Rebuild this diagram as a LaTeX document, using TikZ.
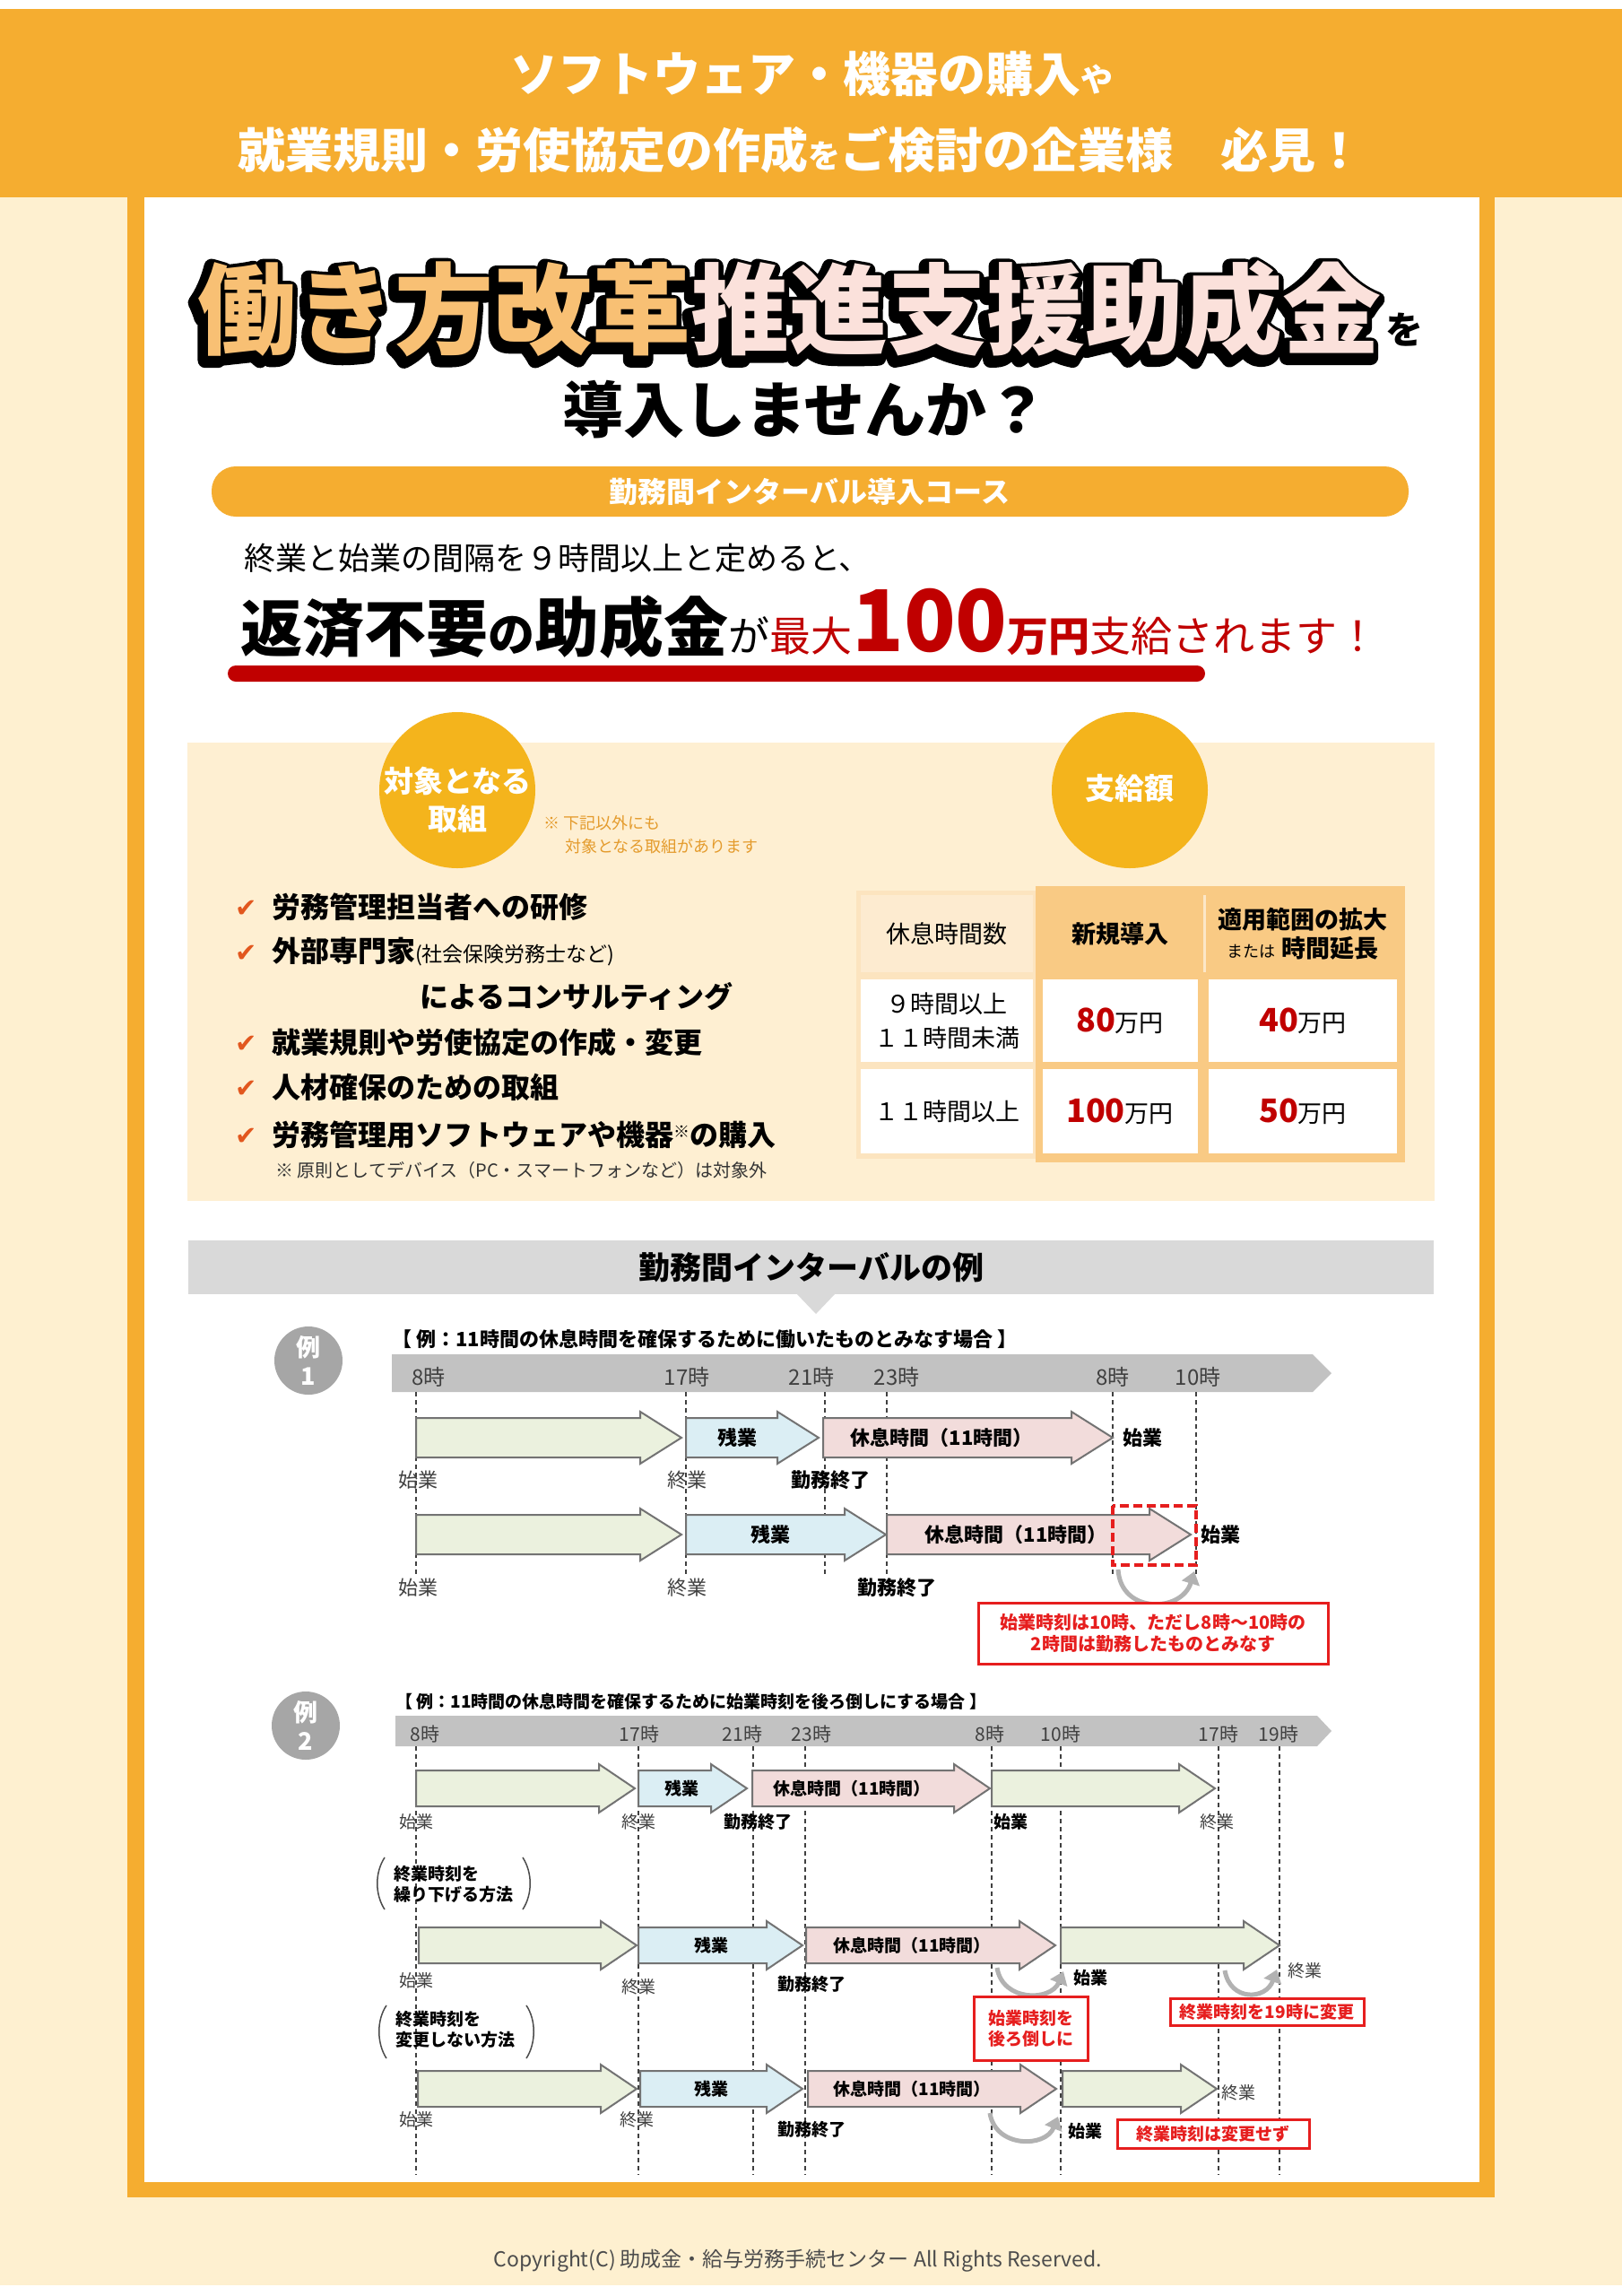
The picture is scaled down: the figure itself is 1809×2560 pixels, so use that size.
\documentclass[tikz,border=0pt]{standalone}
\usepackage{fontspec}
\setmainfont{Noto Sans CJK JP}
\newfontfamily\symfont{DejaVu Sans}
\usetikzlibrary{arrows.meta}

\definecolor{mainorange}{HTML}{F5AD30}
\definecolor{bgcream}{HTML}{FEF0D0}
\definecolor{boxcream}{HTML}{FEEFD2}
\definecolor{gold}{HTML}{F4B41C}
\definecolor{darkred}{HTML}{C00000}
\definecolor{ttlorange}{HTML}{F8C074}
\definecolor{ttlpink}{HTML}{FBE1DB}
\definecolor{notegold}{HTML}{E49B2C}
\definecolor{checkred}{HTML}{E2571E}
\definecolor{tblframe}{HTML}{F9CA84}
\definecolor{tbllight}{HTML}{FCE4BF}
\definecolor{tblhead}{HTML}{FDEBD0}
\definecolor{secgray}{HTML}{D9D9D9}
\definecolor{bargray}{HTML}{C2C2C2}
\definecolor{circgray}{HTML}{A6A6A6}
\definecolor{worktint}{HTML}{EBF1DE}
\definecolor{overtint}{HTML}{DBEEF4}
\definecolor{resttint}{HTML}{F2DCDB}
\definecolor{exred}{HTML}{E61E1E}
\definecolor{txtgray}{HTML}{404040}

\newcommand\fs[1]{\fontsize{#1pt}{1.2\dimexpr#1pt\relax}\selectfont}
\newcommand\outlined[1]{\color{black}\special{pdf:literal direct 1 Tr 17 w 1 j 0 G}#1\special{pdf:literal direct 0 Tr}}

\newcommand\bodyh{22}
\newcommand\headh{29}
\newcommand\headl{46}
\newcommand\blockarrow[4]{%
  \draw[blockline, fill=#4] (#1,#3-\bodyh) -- (#2-\headl,#3-\bodyh) -- (#2-\headl,#3-\headh)
    -- (#2,#3) -- (#2-\headl,#3+\headh) -- (#2-\headl,#3+\bodyh) -- (#1,#3+\bodyh) -- cycle;}

\tikzset{
  hdtext/.style={text=white, font=\bfseries\fs{53}},
  ttltext/.style={font=\bfseries\fs{110}, inner sep=0pt},
  goldcirc/.style={circle, fill=gold, minimum size=174pt, inner sep=0pt},
  circtext/.style={text=white, font=\bfseries\fs{33}, align=center, inner sep=0pt},
  notetext/.style={anchor=west, text=notegold, font=\fs{18}, inner sep=0pt},
  checkmark/.style={text=checkred, font=\symfont\fs{29}, inner sep=0pt},
  item/.style={anchor=west, font=\bfseries\fs{32}, inner sep=0pt},
  cell/.style={inner sep=0pt, align=center, font=\fs{27}, text=black},
  blockline/.style={draw=black!55, line width=2pt},
  tdash/.style={draw=black!75, line width=1.3pt, dash pattern=on 5pt off 4pt},
  tlabel/.style={text=txtgray, font=\fs{24}, inner sep=0pt},
  plainlbl/.style={text=txtgray, font=\fs{22}, inner sep=0pt},
  boldlbl/.style={text=black, font=\bfseries\fs{22}, inner sep=0pt},
  excirc/.style={circle, fill=circgray, minimum size=76pt, inner sep=0pt, text=white, font=\bfseries\fs{27}, align=center},
  reddash/.style={draw=exred, line width=4pt, dash pattern=on 10pt off 5pt},
  notebox/.style={draw=exred, line width=3pt, fill=white, text=exred, font=\bfseries\fs{20}, align=center, inner sep=0pt},
  turnarrow/.style={draw=gray!60, line width=5pt, -{Triangle[length=14pt,width=20pt]}},
  paren/.style={draw=black!70, line width=1.5pt},
}

\begin{document}
\begin{tikzpicture}[x=1pt,y=-1pt]
\useasboundingbox (0,0) rectangle (1809,2560);

% page, header band and frame
\fill[white] (0,0) rectangle (1809,2560);
\fill[bgcream] (0,10) rectangle (1809,2548);
\fill[mainorange] (0,10) rectangle (1809,220);
\fill[mainorange] (142,220) rectangle (1667,2450);
\fill[white] (161,220) rectangle (1650,2433);

\node[hdtext] (hd1) at (905,82) {ソフトウェア・機器の購入{\fs{36}や}};
\node[hdtext] (hd2) at (893,167) {就業規則・労使協定の作成{\fs{36}を}ご検討の企業様　必見！};

% title
\node[ttltext] (ttlsh) at (877,349) {\outlined{働き方改革推進支援助成金}};
\node[ttltext] (ttl) at (880,345) {\textcolor{ttlorange}{働き方改革}\textcolor{ttlpink}{推進支援助成金}};
\node[font=\bfseries\fs{42}, inner sep=0pt] (wo) at (1566,368) {を};
\node[font=\bfseries\fs{68}] (ask) at (898,457) {導入しませんか？};

% course pill
\fill[mainorange, rounded corners=27pt] (236,520) rectangle (1571,576);
\node[text=white, font=\bfseries\fs{32}] (course) at (903,548) {勤務間インターバル導入コース};

\node[anchor=west, font=\fs{35}, inner sep=0pt] (lead) at (272,622) {終業と始業の間隔を９時間以上と定めると、};
\node[anchor=west, inner sep=0pt] (claim) at (268,695)
  {{\bfseries\fs{69}返済不要}{\bfseries\fs{52}の}{\bfseries\fs{72}助成金}{\fs{46}が}\textcolor{darkred}{\fs{46}最大{\bfseries\fs{95}100}{\bfseries\fs{46}万円}支給されます！}};
\fill[darkred, rounded corners=9pt] (254,742) rectangle (1344,760);

% eligible measures and amounts
\fill[boxcream] (209,828) rectangle (1600,1339);
\node[goldcirc] (tgt) at (510,881) {};
\node[circtext] (tgtt) at (510,892) {対象となる\\[2pt]取組};
\node[goldcirc] (amt) at (1260,881) {};
\node[circtext] (amtt) at (1260,879) {支給額};
\node[notetext] (tn1) at (606,918) {※ 下記以外にも};
\node[notetext] (tn2) at (630,944) {対象となる取組があります};

\begin{scope}[every node/.append style={}]
  \node[checkmark] (k1) at (275,1013) {✔};
  \node[checkmark] (k2) at (275,1063) {✔};
  \node[checkmark] (k4) at (275,1164) {✔};
  \node[checkmark] (k5) at (275,1214) {✔};
  \node[checkmark] (k6) at (275,1267) {✔};
  \node[item] (i1) at (303,1011) {労務管理担当者への研修};
  \node[item] (i2) at (303,1061) {外部専門家{\mdseries\fs{23}(社会保険労務士など)}};
  \node[item] (i3) at (468,1111) {によるコンサルティング};
  \node[item] (i4) at (303,1162) {就業規則や労使協定の作成・変更};
  \node[item] (i5) at (303,1212) {人材確保のための取組};
  \node[item] (i6) at (303,1265) {労務管理用ソフトウェアや機器{\mdseries\fs{18}\raisebox{9pt}{※}}の購入};
  \node[anchor=west, font=\fs{20}, text=black!80, inner sep=0pt] (i7) at (307,1305) {※ 原則としてデバイス（PC・スマートフォンなど）は対象外};
\end{scope}

% table
\fill[tbllight] (955,993) rectangle (1157,1292);
\fill[tblframe] (1155,988) rectangle (1567,1296);
\draw[white!55!tblframe, line width=3pt] (1343,998) -- (1343,1084);
\begin{scope}[every node/.append style={cell}]
  \node[fill=tblhead, minimum width=192pt, minimum height=86pt] (c11) at (1056,1041) {休息時間数};
  \node[font=\bfseries\fs{27}] (c12) at (1249,1041) {新規導入};
  \node[font=\bfseries\fs{27}] (c13) at (1453,1041) {適用範囲の拡大\\{\mdseries\fs{18}または} 時間延長};
  \node[fill=white, minimum width=192pt, minimum height=92pt] (c21) at (1056,1138) {９時間以上\\[6pt]１１時間未満};
  \node[fill=white, minimum width=173pt, minimum height=92pt] (c22) at (1249,1138) {\textcolor{darkred}{\bfseries\fs{36}80}万円};
  \node[fill=white, minimum width=210pt, minimum height=92pt] (c23) at (1453,1138) {\textcolor{darkred}{\bfseries\fs{36}40}万円};
  \node[fill=white, minimum width=192pt, minimum height=94pt] (c31) at (1056,1239) {１１時間以上};
  \node[fill=white, minimum width=173pt, minimum height=94pt] (c32) at (1249,1239) {\textcolor{darkred}{\bfseries\fs{36}100}万円};
  \node[fill=white, minimum width=210pt, minimum height=94pt] (c33) at (1453,1239) {\textcolor{darkred}{\bfseries\fs{36}50}万円};
\end{scope}

% section bar
\fill[secgray] (210,1383) rectangle (1599,1443);
\fill[secgray] (889,1443) -- (931,1443) -- (910,1465) -- cycle;
\node[font=\bfseries\fs{35}] (sec) at (905,1413) {勤務間インターバルの例};

% example 1
\node[excirc] (ex1) at (344,1517) {例\\1};
\node[anchor=west, font=\bfseries\fs{22}, inner sep=0pt] (ex1h) at (437,1493) {【 例：11時間の休息時間を確保するために働いたものとみなす場合 】};
\fill[bargray] (437,1510) -- (1464,1510) -- (1485,1531) -- (1464,1552) -- (437,1552) -- cycle;
\node[tlabel] (a8) at (478,1535) {8時};
\node[tlabel] (a17) at (766,1535) {17時};
\node[tlabel] (a21) at (905,1535) {21時};
\node[tlabel] (a23) at (1000,1535) {23時};
\node[tlabel] (b8) at (1241,1535) {8時};
\node[tlabel] (b10) at (1336,1535) {10時};
\foreach \x in {464,765,920,989,1241,1334}
  \draw[tdash] (\x,1552) -- (\x,1757);

\blockarrow{464}{760}{1603}{worktint}
\blockarrow{765}{913}{1603}{overtint}
\blockarrow{918}{1241}{1603}{resttint}
\node[boldlbl] (o1) at (822,1603) {残業};
\node[boldlbl] (r1) at (1050,1603) {休息時間（11時間）};
\node[plainlbl] (s1) at (466,1650) {始業};
\node[plainlbl] (e1) at (766,1650) {終業};
\node[boldlbl] (f1) at (926,1650) {勤務終了};
\node[boldlbl] (n1) at (1274,1603) {始業};

\blockarrow{464}{760}{1711}{worktint}
\blockarrow{765}{988}{1711}{overtint}
\blockarrow{989}{1328}{1711}{resttint}
\node[boldlbl] (o2) at (859,1711) {残業};
\node[boldlbl] (r2) at (1133,1711) {休息時間（11時間）};
\node[plainlbl] (s2) at (466,1770) {始業};
\node[plainlbl] (e2) at (766,1770) {終業};
\node[boldlbl] (f2) at (1000,1770) {勤務終了};
\node[boldlbl] (n2) at (1361,1711) {始業};
\draw[reddash] (1241,1679) rectangle (1334,1745);
\draw[turnarrow] (1247,1750) .. controls (1250,1800) and (1318,1798) .. (1332,1752);
\node[notebox, minimum width=390pt, minimum height=68pt] (nb0) at (1286,1821) {始業時刻は10時、ただし8時～10時の\\2時間は勤務したものとみなす};

% example 2
\renewcommand\bodyh{20}
\renewcommand\headh{27}
\renewcommand\headl{40}
\begin{scope}[tlabel/.style={text=txtgray, font=\fs{21}, inner sep=0pt},
              plainlbl/.style={text=txtgray, font=\fs{19}, inner sep=0pt},
              boldlbl/.style={text=black, font=\bfseries\fs{19}, inner sep=0pt},
              notebox/.append style={font=\bfseries\fs{19}}]
  \node[excirc] (ex2) at (341,1924) {例\\2};
  \node[anchor=west, font=\bfseries\fs{19}, inner sep=0pt] (ex2h) at (441,1897) {【 例：11時間の休息時間を確保するために始業時刻を後ろ倒しにする場合 】};
  \fill[bargray] (441,1913) -- (1469,1913) -- (1485,1930) -- (1469,1947) -- (441,1947) -- cycle;
  \node[tlabel] (c8) at (474,1933) {8時};
  \node[tlabel] (c17) at (713,1933) {17時};
  \node[tlabel] (c21) at (828,1933) {21時};
  \node[tlabel] (c23) at (905,1933) {23時};
  \node[tlabel] (d8) at (1104,1933) {8時};
  \node[tlabel] (d10) at (1183,1933) {10時};
  \node[tlabel] (d17) at (1359,1933) {17時};
  \node[tlabel] (d19) at (1426,1933) {19時};
  \foreach \x in {464,712,840,898,1106,1183,1359,1427}
    \draw[tdash] (\x,1947) -- (\x,2425);

  % row A
  \blockarrow{464}{708}{1994}{worktint}
  \blockarrow{712}{833}{1994}{overtint}
  \blockarrow{839}{1104}{1994}{resttint}
  \blockarrow{1106}{1355}{1994}{worktint}
  \node[boldlbl] (oa) at (760,1994) {残業};
  \node[boldlbl] (ra) at (950,1994) {休息時間（11時間）};
  \node[plainlbl] (sa) at (464,2031) {始業};
  \node[plainlbl] (ea) at (712,2031) {終業};
  \node[boldlbl] (fa) at (845,2031) {勤務終了};
  \node[boldlbl] (na) at (1127,2031) {始業};
  \node[plainlbl] (ga) at (1357,2031) {終業};

  % method 1
  \node[anchor=west, font=\bfseries\fs{19}, align=left, inner sep=0pt] (m1) at (439,2101) {終業時刻を\\繰り下げる方法};
  \draw[paren] (429,2071) .. controls (418,2088) and (418,2112) .. (429,2129);
  \draw[paren] (583,2071) .. controls (594,2088) and (594,2112) .. (583,2129);

  % row B
  \blockarrow{467}{710}{2169}{worktint}
  \blockarrow{712}{895}{2169}{overtint}
  \blockarrow{899}{1177}{2169}{resttint}
  \blockarrow{1183}{1427}{2169}{worktint}
  \node[boldlbl] (ob) at (793,2169) {残業};
  \node[boldlbl] (rb) at (1017,2169) {休息時間（11時間）};
  \node[plainlbl] (sb) at (464,2208) {始業};
  \node[plainlbl] (eb) at (712,2215) {終業};
  \node[boldlbl] (fb) at (905,2212) {勤務終了};
  \node[boldlbl] (nb) at (1216,2205) {始業};
  \node[plainlbl] (gb) at (1455,2197) {終業};
  \draw[turnarrow] (1112,2194) .. controls (1118,2232) and (1172,2232) .. (1186,2198);
  \draw[turnarrow] (1366,2197) .. controls (1372,2232) and (1412,2230) .. (1424,2196);
  \node[notebox, minimum width=127pt, minimum height=71pt] (nb1) at (1150,2262) {始業時刻を\\後ろ倒しに};
  \node[notebox, minimum width=216pt, minimum height=30pt] (nb2) at (1413,2243) {終業時刻を19時に変更};

  % method 2
  \node[anchor=west, font=\bfseries\fs{19}, align=left, inner sep=0pt] (m2) at (441,2263) {終業時刻を\\変更しない方法};
  \draw[paren] (431,2236) .. controls (420,2252) and (420,2278) .. (431,2295);
  \draw[paren] (587,2236) .. controls (598,2252) and (598,2278) .. (587,2295);

  % row C
  \blockarrow{466}{710}{2329}{worktint}
  \blockarrow{714}{895}{2329}{overtint}
  \blockarrow{901}{1178}{2329}{resttint}
  \blockarrow{1185}{1357}{2329}{worktint}
  \node[boldlbl] (oc) at (793,2329) {残業};
  \node[boldlbl] (rc) at (1017,2329) {休息時間（11時間）};
  \node[plainlbl] (sc) at (464,2363) {始業};
  \node[plainlbl] (ec) at (710,2363) {終業};
  \node[boldlbl] (fc) at (905,2374) {勤務終了};
  \node[boldlbl] (nc) at (1210,2376) {始業};
  \node[plainlbl] (gc) at (1381,2333) {終業};
  \draw[turnarrow] (1104,2356) .. controls (1110,2395) and (1166,2395) .. (1180,2360);
  \node[notebox, minimum width=214pt, minimum height=32pt] (nb3) at (1353,2379) {終業時刻は変更せず};
\end{scope}

% footer
\node[text=black!70, font=\fs{23}] (copy) at (890,2521) {Copyright(C) 助成金・給与労務手続センター All Rights Reserved.};

\end{tikzpicture}
\end{document}
